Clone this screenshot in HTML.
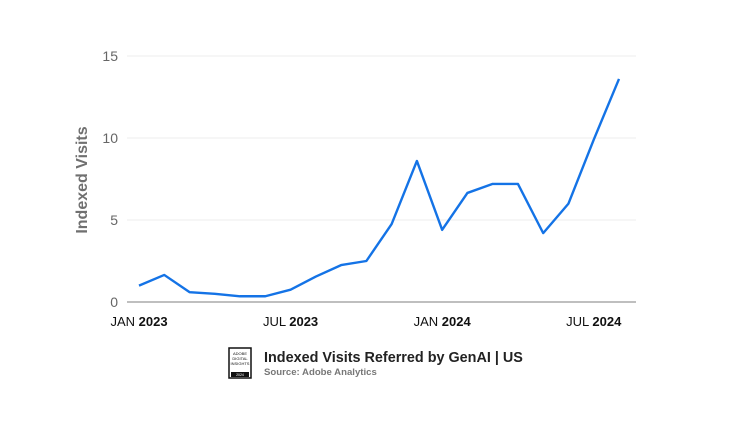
<!DOCTYPE html>
<html><head><meta charset="utf-8"><style>
body{margin:0;background:#fff;font-family:"Liberation Sans",sans-serif}
</style></head><body>
<svg width="750" height="422" viewBox="0 0 750 422">
<g id="grid"></g><g id="xl"></g>
<polyline id="line" fill="none" stroke="#1473e6" stroke-width="2.4" stroke-linejoin="round"/>
<text x="87" y="180" transform="rotate(-90 87 180)" text-anchor="middle" font-size="16" font-weight="bold" fill="#707070">Indexed Visits</text>
<g>
<path d="M229 348 h22 v30 h-22 z" fill="#fff" stroke="#111" stroke-width="1.5"/>
<rect x="231" y="372" width="18" height="5" fill="#111"/>
<text x="240" y="355" font-size="4" text-anchor="middle" fill="#111">ADOBE</text>
<text x="240" y="360" font-size="4" text-anchor="middle" fill="#111">DIGITAL</text>
<text x="240" y="365" font-size="4" text-anchor="middle" fill="#111">INSIGHTS</text>
<text x="240" y="376" font-size="3.5" text-anchor="middle" fill="#fff">2024</text>
</g>
<text x="264" y="362" font-size="14.4" font-weight="bold" fill="#222">Indexed Visits Referred by GenAI | US</text>
<text x="264" y="375" font-size="9.6" font-weight="bold" fill="#777">Source: Adobe Analytics</text>
</svg>
<script>
const months=["Jan23","Feb23","Mar23","Apr23","May23","Jun23","Jul23","Aug23","Sep23","Oct23","Nov23","Dec23","Jan24","Feb24","Mar24","Apr24","May24","Jun24","Jul24","Aug24"];
const values=[1.0,1.65,0.6,0.5,0.35,0.35,0.75,1.55,2.25,2.5,4.75,8.6,4.4,6.65,7.2,7.2,4.2,6.0,9.9,13.6];
const yTicks=[0,5,10,15];
const xLabels=[[0,"JAN ","2023"],[6,"JUL ","2023"],[12,"JAN ","2024"],[18,"JUL ","2024"]];
const NS="http://www.w3.org/2000/svg";
const x=i=>139+i*(619-139)/(months.length-1);
const y=v=>302-v*(302-56)/15;
const g=document.getElementById('grid');
yTicks.forEach(t=>{
 const l=document.createElementNS(NS,'line');
 
 
 l.setAttribute('x1',127);l.setAttribute('x2',636);l.setAttribute('y1',y(t));l.setAttribute('y2',y(t));
 l.setAttribute('stroke',t==0?'#999':'#eee');l.setAttribute('stroke-width',t==0?1.2:1);
 g.appendChild(l);
 const tx=document.createElementNS(NS,'text');
 
 
 tx.setAttribute('x',118);tx.setAttribute('y',y(t)+5);tx.setAttribute('text-anchor','end');
 tx.setAttribute('font-size','14');tx.setAttribute('fill','#666');tx.textContent=t;
 g.appendChild(tx);
});
const xl=document.getElementById('xl');
xLabels.forEach(([i,m,yr])=>{
 const tx=document.createElementNS(NS,'text');
 
 
 tx.setAttribute('x',x(i));tx.setAttribute('y',326);tx.setAttribute('text-anchor','middle');
 tx.setAttribute('font-size','13');tx.setAttribute('fill','#111');
 tx.innerHTML=m+'<tspan font-weight="bold">'+yr+'</tspan>';
 xl.appendChild(tx);
});
document.getElementById('line').setAttribute('points',values.map((v,i)=>x(i)+','+y(v)).join(' '));
</script>
</body></html>
